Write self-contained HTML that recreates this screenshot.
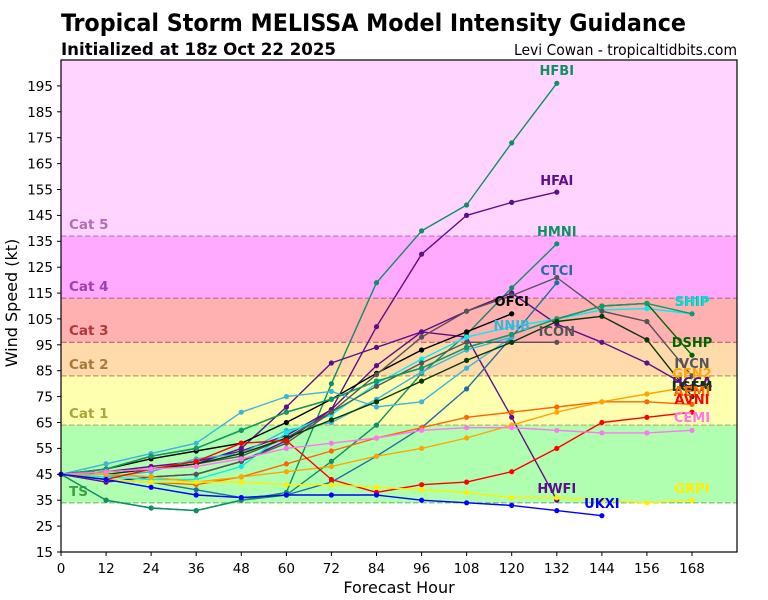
<!DOCTYPE html>
<html><head><meta charset="utf-8"><style>
html,body{margin:0;padding:0;background:#fff;}
svg{display:block;}
.t{font-family:"DejaVu Sans","Liberation Sans",sans-serif;}
.ml{font-family:"DejaVu Sans","Liberation Sans",sans-serif;font-weight:bold;font-size:13px;text-anchor:middle;}
.bl{font-family:"DejaVu Sans","Liberation Sans",sans-serif;font-weight:bold;font-size:13.5px;}
.tk{font-family:"DejaVu Sans","Liberation Sans",sans-serif;font-size:13.5px;fill:#000;}
.s{fill:none;stroke-width:1.4;stroke-linejoin:round;}
</style></head><body>
<svg width="768" height="600" viewBox="0 0 768 600" xmlns="http://www.w3.org/2000/svg">
<defs>
<marker id="mteal" markerUnits="userSpaceOnUse" markerWidth="8" markerHeight="8" refX="4" refY="4" viewBox="0 0 8 8"><circle cx="4" cy="4" r="2.6" fill="#0f8f62"/></marker>
<marker id="mship" markerUnits="userSpaceOnUse" markerWidth="8" markerHeight="8" refX="4" refY="4" viewBox="0 0 8 8"><circle cx="4" cy="4" r="2.6" fill="#119a6a"/></marker>
<marker id="mpur" markerUnits="userSpaceOnUse" markerWidth="8" markerHeight="8" refX="4" refY="4" viewBox="0 0 8 8"><circle cx="4" cy="4" r="2.6" fill="#5c0f8b"/></marker>
<marker id="msteel" markerUnits="userSpaceOnUse" markerWidth="8" markerHeight="8" refX="4" refY="4" viewBox="0 0 8 8"><circle cx="4" cy="4" r="2.6" fill="#1f6ea6"/></marker>
<marker id="mblk" markerUnits="userSpaceOnUse" markerWidth="8" markerHeight="8" refX="4" refY="4" viewBox="0 0 8 8"><circle cx="4" cy="4" r="2.6" fill="#000"/></marker>
<marker id="mlb" markerUnits="userSpaceOnUse" markerWidth="8" markerHeight="8" refX="4" refY="4" viewBox="0 0 8 8"><circle cx="4" cy="4" r="2.6" fill="#3cb4dc"/></marker>
<marker id="mcy" markerUnits="userSpaceOnUse" markerWidth="8" markerHeight="8" refX="4" refY="4" viewBox="0 0 8 8"><circle cx="4" cy="4" r="2.6" fill="#00eeee"/></marker>
<marker id="mgray" markerUnits="userSpaceOnUse" markerWidth="8" markerHeight="8" refX="4" refY="4" viewBox="0 0 8 8"><circle cx="4" cy="4" r="2.6" fill="#555555"/></marker>
<marker id="mdg" markerUnits="userSpaceOnUse" markerWidth="8" markerHeight="8" refX="4" refY="4" viewBox="0 0 8 8"><circle cx="4" cy="4" r="2.6" fill="#006400"/></marker>
<marker id="mvdg" markerUnits="userSpaceOnUse" markerWidth="8" markerHeight="8" refX="4" refY="4" viewBox="0 0 8 8"><circle cx="4" cy="4" r="2.6" fill="#073807"/></marker>
<marker id="maemi" markerUnits="userSpaceOnUse" markerWidth="8" markerHeight="8" refX="4" refY="4" viewBox="0 0 8 8"><circle cx="4" cy="4" r="2.6" fill="#ff6600"/></marker>
<marker id="mgfn" markerUnits="userSpaceOnUse" markerWidth="8" markerHeight="8" refX="4" refY="4" viewBox="0 0 8 8"><circle cx="4" cy="4" r="2.6" fill="#ffa500"/></marker>
<marker id="mred" markerUnits="userSpaceOnUse" markerWidth="8" markerHeight="8" refX="4" refY="4" viewBox="0 0 8 8"><circle cx="4" cy="4" r="2.6" fill="#ff0000"/></marker>
<marker id="mcemi" markerUnits="userSpaceOnUse" markerWidth="8" markerHeight="8" refX="4" refY="4" viewBox="0 0 8 8"><circle cx="4" cy="4" r="2.6" fill="#ff77ee"/></marker>
<marker id="myel" markerUnits="userSpaceOnUse" markerWidth="8" markerHeight="8" refX="4" refY="4" viewBox="0 0 8 8"><circle cx="4" cy="4" r="2.6" fill="#ffee00"/></marker>
<marker id="mblue" markerUnits="userSpaceOnUse" markerWidth="8" markerHeight="8" refX="4" refY="4" viewBox="0 0 8 8"><circle cx="4" cy="4" r="2.6" fill="#0000ff"/></marker>
</defs>

<!-- titles -->
<text class="t" x="61" y="31" font-size="24" font-weight="bold" font-stretch="condensed" textLength="625" lengthAdjust="spacingAndGlyphs">Tropical Storm MELISSA Model Intensity Guidance</text>
<text class="t" x="61" y="55" font-size="17" font-weight="bold" font-stretch="condensed" textLength="275" lengthAdjust="spacingAndGlyphs">Initialized at 18z Oct 22 2025</text>
<text class="t" x="737" y="55" font-size="15" text-anchor="end" font-stretch="condensed" textLength="223" lengthAdjust="spacingAndGlyphs">Levi Cowan - tropicaltidbits.com</text>

<!-- bands -->
<rect x="61" y="60" width="676" height="176.1" fill="#ffd5ff"/>
<rect x="61" y="236.1" width="676" height="62.1" fill="#ffaaff"/>
<rect x="61" y="298.2" width="676" height="44.1" fill="#ffb0b0"/>
<rect x="61" y="342.3" width="676" height="33.6" fill="#ffdaaa"/>
<rect x="61" y="375.9" width="676" height="49.2" fill="#ffffb0"/>
<rect x="61" y="425.1" width="676" height="77.7" fill="#b0ffb0"/>
<g stroke-width="1.2" stroke-dasharray="5.5,2.5" fill="none">
<line x1="61" y1="236.1" x2="737" y2="236.1" stroke="#c878c8"/>
<line x1="61" y1="298.2" x2="737" y2="298.2" stroke="#c060a8"/>
<line x1="61" y1="342.3" x2="737" y2="342.3" stroke="#c06868"/>
<line x1="61" y1="375.9" x2="737" y2="375.9" stroke="#c09860"/>
<line x1="61" y1="425.1" x2="737" y2="425.1" stroke="#b4b468"/>
<line x1="61" y1="502.8" x2="737" y2="502.8" stroke="#70b870"/>
</g>
<text class="bl" x="69" y="229" fill="#b070b0">Cat 5</text>
<text class="bl" x="69" y="291" fill="#a040b0">Cat 4</text>
<text class="bl" x="69" y="335" fill="#b03838">Cat 3</text>
<text class="bl" x="69" y="369" fill="#a87838">Cat 2</text>
<text class="bl" x="69" y="418" fill="#a8a838">Cat 1</text>
<text class="bl" x="69" y="496" fill="#40a040">TS</text>

<!-- series -->
<polyline class="s" stroke="#0f8f62" marker-start="url(#mteal)" marker-mid="url(#mteal)" marker-end="url(#mteal)" points="61,474.3 106.1,500.2 151.1,508.0 196.2,510.6 241.3,500.2 286.4,492.4 331.4,383.7 376.5,282.7 421.6,230.9 466.6,205.0 511.7,142.9 556.8,83.3"/>
<polyline class="s" stroke="#0f8f62" marker-start="url(#mteal)" marker-mid="url(#mteal)" marker-end="url(#mteal)" points="61,474.3 106.1,500.2 151.1,508.0 196.2,510.6 241.3,500.2 286.4,495.0 331.4,461.4 376.5,425.1 421.6,373.3 466.6,334.5 511.7,287.9 556.8,243.8"/>
<polyline class="s" stroke="#5c0f8b" marker-start="url(#mpur)" marker-mid="url(#mpur)" marker-end="url(#mpur)" points="61,474.3 106.1,471.7 151.1,466.5 196.2,461.4 241.3,451.0 286.4,435.5 331.4,409.6 376.5,326.7 421.6,254.2 466.6,215.4 511.7,202.4 556.8,192.1"/>
<polyline class="s" stroke="#5c0f8b" marker-start="url(#mpur)" marker-mid="url(#mpur)" marker-end="url(#mpur)" points="61,474.3 106.1,482.1 151.1,476.9 196.2,474.3 241.3,461.4 286.4,440.6 331.4,409.6 376.5,365.6 421.6,331.9 466.6,337.1 511.7,417.3 556.8,500.2"/>
<polyline class="s" stroke="#5c0f8b" marker-start="url(#mpur)" marker-mid="url(#mpur)" marker-end="url(#mpur)" points="61,474.3 106.1,471.7 151.1,469.1 196.2,463.9 241.3,448.4 286.4,407.0 331.4,363.0 376.5,347.4 421.6,331.9 466.6,311.2 511.7,293.0 556.8,324.1 601.9,342.3 646.9,363.0 692,388.9"/>
<polyline class="s" stroke="#1f6ea6" marker-start="url(#msteel)" marker-mid="url(#msteel)" marker-end="url(#msteel)" points="61,474.3 106.1,479.5 151.1,482.1 196.2,489.8 241.3,497.6 286.4,495.0 331.4,482.1 376.5,456.2 421.6,427.7 466.6,388.9 511.7,337.1 556.8,282.7"/>
<polyline class="s" stroke="#000" marker-start="url(#mblk)" marker-mid="url(#mblk)" marker-end="url(#mblk)" points="61,474.3 106.1,469.1 151.1,458.8 196.2,451.0 241.3,443.2 286.4,422.5 331.4,399.2 376.5,373.3 421.6,350.0 466.6,331.9 511.7,313.8"/>
<polyline class="s" stroke="#3cb4dc" marker-start="url(#mlb)" marker-mid="url(#mlb)" marker-end="url(#mlb)" points="61,474.3 106.1,463.9 151.1,453.6 196.2,443.2 241.3,412.2 286.4,396.6 331.4,391.4 376.5,407.0 421.6,401.8 466.6,368.1 511.7,337.1"/>
<polyline class="s" stroke="#3cb4dc" marker-start="url(#mlb)" marker-mid="url(#mlb)" marker-end="url(#mlb)" points="61,474.3 106.1,476.9 151.1,471.7 196.2,458.8 241.3,453.6 286.4,430.3 331.4,422.5 376.5,399.2 421.6,372.0 466.6,350.0 511.7,337.1"/>
<polyline class="s" stroke="#00eeee" marker-start="url(#mcy)" marker-mid="url(#mcy)" marker-end="url(#mcy)" points="61,474.3 106.1,476.9 151.1,479.5 196.2,479.5 241.3,466.5 286.4,432.9 331.4,414.8 376.5,383.7 421.6,359.1 466.6,337.1 511.7,326.7 556.8,318.9 601.9,309.9 646.9,308.6 692,313.8"/>
<polyline class="s" stroke="#555555" marker-start="url(#mgray)" marker-mid="url(#mgray)" marker-end="url(#mgray)" points="61,474.3 106.1,474.3 151.1,476.9 196.2,474.3 241.3,461.4 286.4,443.2 331.4,412.2 376.5,386.3 421.6,363.0 466.6,342.3 511.7,342.3 556.8,342.3"/>
<polyline class="s" stroke="#555555" marker-start="url(#mgray)" marker-mid="url(#mgray)" marker-end="url(#mgray)" points="61,474.3 106.1,471.7 151.1,469.1 196.2,463.9 241.3,456.2 286.4,438.0 331.4,412.2 376.5,374.6 421.6,337.1 466.6,311.2 511.7,295.6 556.8,277.5 601.9,311.2 646.9,321.5 692,375.9"/>
<polyline class="s" stroke="#006400" marker-start="url(#mdg)" marker-mid="url(#mdg)" marker-end="url(#mdg)" points="61,474.3 106.1,469.1 151.1,456.2 196.2,448.4 241.3,430.3 286.4,412.2 331.4,399.2 376.5,381.1 421.6,368.1 466.6,347.4 511.7,334.5 556.8,318.9 601.9,306.0 646.9,303.4 692,355.2"/>
<polyline class="s" stroke="#119a6a" marker-start="url(#mship)" marker-mid="url(#mship)" marker-end="url(#mship)" points="61,474.3 106.1,469.1 151.1,456.2 196.2,448.4 241.3,430.3 286.4,412.2 331.4,399.2 376.5,381.1 421.6,368.1 466.6,347.4 511.7,334.5 556.8,318.9 601.9,306.0 646.9,303.4 692,313.8"/>
<polyline class="s" stroke="#073807" marker-start="url(#mvdg)" marker-mid="url(#mvdg)" marker-end="url(#mvdg)" points="61,474.3 106.1,474.3 151.1,469.1 196.2,463.9 241.3,453.6 286.4,438.0 331.4,419.9 376.5,401.8 421.6,381.1 466.6,360.4 511.7,342.3 556.8,321.5 601.9,316.3 646.9,339.7 692,396.6"/>
<polyline class="s" stroke="#ff6600" marker-start="url(#maemi)" marker-mid="url(#maemi)" marker-end="url(#maemi)" points="61,474.3 106.1,479.5 151.1,482.1 196.2,484.7 241.3,476.9 286.4,463.9 331.4,451.0 376.5,438.0 421.6,427.7 466.6,417.3 511.7,412.2 556.8,407.0 601.9,401.8 646.9,401.8 692,404.4"/>
<polyline class="s" stroke="#ffa500" marker-start="url(#mgfn)" marker-mid="url(#mgfn)" marker-end="url(#mgfn)" points="61,474.3 106.1,474.3 151.1,476.9 196.2,482.1 241.3,476.9 286.4,471.7 331.4,466.5 376.5,456.2 421.6,448.4 466.6,438.0 511.7,425.1 556.8,412.2 601.9,401.8 646.9,394.0 692,386.3"/>
<polyline class="s" stroke="#ff0000" marker-start="url(#mred)" marker-mid="url(#mred)" marker-end="url(#mred)" points="61,474.3 106.1,479.5 151.1,469.1 196.2,461.4 241.3,443.2 286.4,440.6 331.4,479.5 376.5,492.4 421.6,484.7 466.6,482.1 511.7,471.7 556.8,448.4 601.9,422.5 646.9,417.3 692,412.2"/>
<polyline class="s" stroke="#ff77ee" marker-start="url(#mcemi)" marker-mid="url(#mcemi)" marker-end="url(#mcemi)" points="61,474.3 106.1,471.7 151.1,469.1 196.2,466.5 241.3,458.8 286.4,448.4 331.4,443.2 376.5,438.0 421.6,430.3 466.6,427.7 511.7,427.7 556.8,430.3 601.9,432.9 646.9,432.9 692,430.3"/>
<polyline class="s" stroke="#ffee00" marker-start="url(#myel)" marker-mid="url(#myel)" marker-end="url(#myel)" points="61,474.3 106.1,479.5 151.1,482.1 196.2,482.1 241.3,482.1 286.4,484.7 331.4,484.7 376.5,487.3 421.6,489.8 466.6,492.4 511.7,497.6 556.8,497.6 601.9,500.2 646.9,502.8 692,500.2"/>
<polyline class="s" stroke="#0000ff" marker-start="url(#mblue)" marker-mid="url(#mblue)" marker-end="url(#mblue)" points="61,474.3 106.1,479.5 151.1,487.3 196.2,495.0 241.3,497.6 286.4,495.0 331.4,495.0 376.5,495.0 421.6,500.2 466.6,502.8 511.7,505.4 556.8,510.6 601.9,515.7"/>

<!-- model labels -->
<text class="ml" x="556.8" y="75" fill="#0f8f62">HFBI</text>
<text class="ml" x="556.8" y="185" fill="#5c0f8b">HFAI</text>
<text class="ml" x="556.8" y="236" fill="#0f8f62">HMNI</text>
<text class="ml" x="556.8" y="275" fill="#1f6ea6">CTCI</text>
<text class="ml" x="511.7" y="306" fill="#000">OFCI</text>
<text class="ml" x="511.7" y="330" fill="#3cb4dc">NNIB</text>
<text class="ml" x="556.8" y="336" fill="#555555">ICON</text>
<text class="ml" x="692" y="306" fill="#119a6a">SHIP</text>
<text class="ml" x="692.5" y="306" fill="#00e0e0">SHIP</text>
<text class="ml" x="692" y="347" fill="#006400">DSHP</text>
<text class="ml" x="692" y="378" fill="#ffa500">GFN2</text>
<text class="ml" x="692" y="368" fill="#555555">IVCN</text>
<text class="ml" x="692" y="387" fill="#5c0f8b">HCCA</text>
<text class="ml" x="692" y="391" fill="#073807">LGEM</text>
<text class="ml" x="692" y="396" fill="#ff6600">AEMI</text>
<text class="ml" x="692" y="404" fill="#ff0000">AVNI</text>
<text class="ml" x="692" y="422" fill="#ff77ee">CEMI</text>
<text class="ml" x="556.8" y="493" fill="#5c0f8b">HWFI</text>
<text class="ml" x="601.9" y="508" fill="#0000ff">UKXI</text>
<text class="ml" x="692" y="493" fill="#ffee00">GRPI</text>

<!-- frame -->
<rect x="61" y="60" width="676" height="492" fill="none" stroke="#000" stroke-width="1.2"/>

<!-- y ticks -->
<g stroke="#000" stroke-width="1">
<line x1="57" y1="552" x2="61" y2="552"/><line x1="57" y1="526.1" x2="61" y2="526.1"/><line x1="57" y1="500.2" x2="61" y2="500.2"/><line x1="57" y1="474.3" x2="61" y2="474.3"/><line x1="57" y1="448.4" x2="61" y2="448.4"/><line x1="57" y1="422.5" x2="61" y2="422.5"/><line x1="57" y1="396.6" x2="61" y2="396.6"/><line x1="57" y1="370.7" x2="61" y2="370.7"/><line x1="57" y1="344.8" x2="61" y2="344.8"/><line x1="57" y1="318.9" x2="61" y2="318.9"/><line x1="57" y1="293.1" x2="61" y2="293.1"/><line x1="57" y1="267.2" x2="61" y2="267.2"/><line x1="57" y1="241.3" x2="61" y2="241.3"/><line x1="57" y1="215.4" x2="61" y2="215.4"/><line x1="57" y1="189.5" x2="61" y2="189.5"/><line x1="57" y1="163.6" x2="61" y2="163.6"/><line x1="57" y1="137.7" x2="61" y2="137.7"/><line x1="57" y1="111.8" x2="61" y2="111.8"/><line x1="57" y1="85.9" x2="61" y2="85.9"/>
</g>
<g class="tk" text-anchor="end">
<text x="53" y="557">15</text><text x="53" y="531">25</text><text x="53" y="505">35</text><text x="53" y="479">45</text><text x="53" y="453">55</text><text x="53" y="427.5">65</text><text x="53" y="401.5">75</text><text x="53" y="375.5">85</text><text x="53" y="350">95</text><text x="53" y="324">105</text><text x="53" y="298">115</text><text x="53" y="272">125</text><text x="53" y="246">135</text><text x="53" y="220">145</text><text x="53" y="194.5">155</text><text x="53" y="168.5">165</text><text x="53" y="142.5">175</text><text x="53" y="117">185</text><text x="53" y="91">195</text>
</g>
<!-- x ticks -->
<g stroke="#000" stroke-width="1">
<line x1="61" y1="552" x2="61" y2="556"/><line x1="106.1" y1="552" x2="106.1" y2="556"/><line x1="151.1" y1="552" x2="151.1" y2="556"/><line x1="196.2" y1="552" x2="196.2" y2="556"/><line x1="241.3" y1="552" x2="241.3" y2="556"/><line x1="286.4" y1="552" x2="286.4" y2="556"/><line x1="331.4" y1="552" x2="331.4" y2="556"/><line x1="376.5" y1="552" x2="376.5" y2="556"/><line x1="421.6" y1="552" x2="421.6" y2="556"/><line x1="466.6" y1="552" x2="466.6" y2="556"/><line x1="511.7" y1="552" x2="511.7" y2="556"/><line x1="556.8" y1="552" x2="556.8" y2="556"/><line x1="601.9" y1="552" x2="601.9" y2="556"/><line x1="646.9" y1="552" x2="646.9" y2="556"/><line x1="692" y1="552" x2="692" y2="556"/>
</g>
<g class="tk" text-anchor="middle">
<text x="61" y="573">0</text><text x="106.1" y="573">12</text><text x="151.1" y="573">24</text><text x="196.2" y="573">36</text><text x="241.3" y="573">48</text><text x="286.4" y="573">60</text><text x="331.4" y="573">72</text><text x="376.5" y="573">84</text><text x="421.6" y="573">96</text><text x="466.6" y="573">108</text><text x="511.7" y="573">120</text><text x="556.8" y="573">132</text><text x="601.9" y="573">144</text><text x="646.9" y="573">156</text><text x="692" y="573">168</text>
</g>
<text class="t" x="399" y="593" font-size="16" text-anchor="middle">Forecast Hour</text>
<text class="t" x="0" y="0" font-size="16" text-anchor="middle" transform="translate(17,303) rotate(-90)">Wind Speed (kt)</text>
</svg>
</body></html>
